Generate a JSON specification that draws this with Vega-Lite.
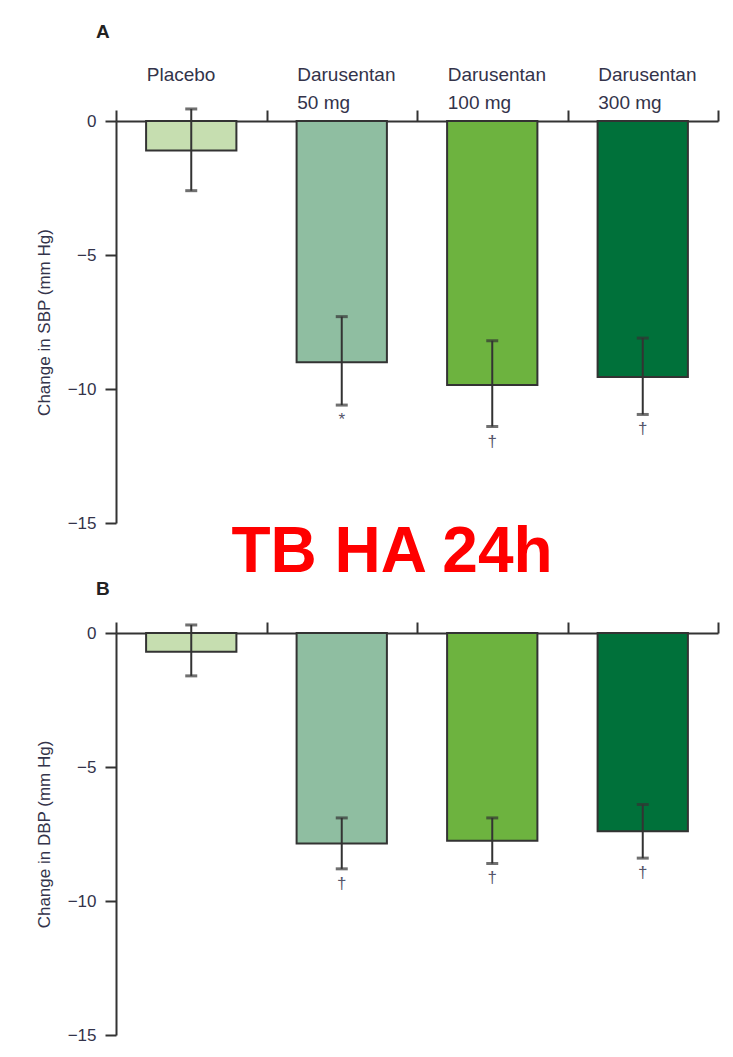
{
  "$schema": "https://vega.github.io/schema/vega-lite/v6.json",
  "background": "white",
  "padding": {"left": 35, "top": 23, "right": 5, "bottom": 5},
  "spacing": 0,
  "bounds": "flush",
  "config": {
    "font": "Liberation Sans",
    "view": {"stroke": null},
    "axis": {
      "grid": false,
      "labelFont": "Liberation Sans",
      "labelFontSize": 17,
      "labelColor": "#33334a",
      "titleFont": "Liberation Sans",
      "titleFontSize": 17,
      "titleFontWeight": "normal",
      "titleColor": "#33334a",
      "domainColor": "#333333",
      "domainWidth": 2,
      "tickColor": "#333333",
      "tickWidth": 2,
      "tickSize": 11
    }
  },
  "datasets": {
    "sbp": [
      {"group": "Placebo| ", "mean": -1.1, "lo": -2.6, "hi": 0.45, "sig": ""},
      {"group": "Darusentan|50 mg", "mean": -9.0, "lo": -10.6, "hi": -7.3, "sig": "*"},
      {"group": "Darusentan|100 mg", "mean": -9.85, "lo": -11.4, "hi": -8.2, "sig": "†"},
      {"group": "Darusentan|300 mg", "mean": -9.55, "lo": -10.95, "hi": -8.1, "sig": "†"}
    ],
    "dbp": [
      {"group": "Placebo| ", "mean": -0.7, "lo": -1.6, "hi": 0.3, "sig": ""},
      {"group": "Darusentan|50 mg", "mean": -7.85, "lo": -8.8, "hi": -6.9, "sig": "†"},
      {"group": "Darusentan|100 mg", "mean": -7.75, "lo": -8.6, "hi": -6.9, "sig": "†"},
      {"group": "Darusentan|300 mg", "mean": -7.4, "lo": -8.4, "hi": -6.4, "sig": "†"}
    ]
  },
  "vconcat": [
    {
      "width": 602,
      "height": 402,
      "data": {"name": "sbp"},
      "title": {"text": "A", "anchor": "start", "frame": "group", "dx": -20, "fontSize": 19, "fontWeight": "bold", "color": "#222222", "offset": 23},
      "encoding": {
        "x": {
          "field": "group", "type": "nominal", "sort": null,
          "scale": {"paddingInner": 0, "paddingOuter": 0},
          "axis": {
            "orient": "top", "title": null, "tickBand": "extent",
            "labelExpr": "split(datum.label, '|')",
            "labelAlign": "left", "labelOffset": -45, "labelAngle": 0,
            "labelFontSize": 19,
            "labelBaseline": "top", "labelLineHeight": 28, "labelPadding": 45
          }
        }
      },
      "layer": [
        {
          "mark": {"type": "bar", "width": {"band": 0.6}, "stroke": "#333333", "strokeWidth": 2},
          "encoding": {
            "y": {
              "field": "mean", "type": "quantitative", "title": "Change in SBP (mm Hg)",
              "scale": {"domain": [-15, 0], "nice": false},
              "axis": {"values": [0, -5, -10, -15], "labelPadding": 9, "titlePadding": 14}
            },
            "fill": {
              "field": "group", "type": "nominal", "legend": null,
              "scale": {"domain": ["Placebo| ", "Darusentan|50 mg", "Darusentan|100 mg", "Darusentan|300 mg"], "range": ["#c6deb0", "#8fbea1", "#6db33f", "#00713a"]}
            }
          }
        },
        {
          "mark": {"type": "errorbar", "color": "#333333", "thickness": 2, "ticks": {"size": 12, "thickness": 3}},
          "encoding": {
            "y": {"field": "lo", "type": "quantitative", "title": "Change in SBP (mm Hg)"},
            "y2": {"field": "hi"}
          }
        },
        {
          "mark": {"type": "text", "baseline": "top", "dy": 7, "fontSize": 17, "color": "#55556a"},
          "encoding": {
            "y": {"field": "lo", "type": "quantitative", "title": "Change in SBP (mm Hg)"},
            "text": {"field": "sig"}
          }
        }
      ]
    },
    {
      "width": 602,
      "height": 110,
      "data": {"values": [{"label": "TB HA 24h"}]},
      "mark": {"type": "text", "font": "Liberation Sans", "fontWeight": "bold", "fontSize": 64, "color": "#ff0000", "baseline": "alphabetic", "dx": -25, "dy": -6},
      "encoding": {"text": {"field": "label"}}
    },
    {
      "width": 602,
      "height": 402,
      "data": {"name": "dbp"},
      "title": {"text": "B", "anchor": "start", "frame": "group", "dx": -20, "fontSize": 19, "fontWeight": "bold", "color": "#222222", "offset": 22},
      "encoding": {
        "x": {
          "field": "group", "type": "nominal", "sort": null,
          "scale": {"paddingInner": 0, "paddingOuter": 0},
          "axis": {"orient": "top", "title": null, "tickBand": "extent", "labels": false}
        }
      },
      "layer": [
        {
          "mark": {"type": "bar", "width": {"band": 0.6}, "stroke": "#333333", "strokeWidth": 2},
          "encoding": {
            "y": {
              "field": "mean", "type": "quantitative", "title": "Change in DBP (mm Hg)",
              "scale": {"domain": [-15, 0], "nice": false},
              "axis": {"values": [0, -5, -10, -15], "labelPadding": 9, "titlePadding": 14}
            },
            "fill": {
              "field": "group", "type": "nominal", "legend": null,
              "scale": {"domain": ["Placebo| ", "Darusentan|50 mg", "Darusentan|100 mg", "Darusentan|300 mg"], "range": ["#c6deb0", "#8fbea1", "#6db33f", "#00713a"]}
            }
          }
        },
        {
          "mark": {"type": "errorbar", "color": "#333333", "thickness": 2, "ticks": {"size": 12, "thickness": 3}},
          "encoding": {
            "y": {"field": "lo", "type": "quantitative", "title": "Change in DBP (mm Hg)"},
            "y2": {"field": "hi"}
          }
        },
        {
          "mark": {"type": "text", "baseline": "top", "dy": 7, "fontSize": 17, "color": "#55556a"},
          "encoding": {
            "y": {"field": "lo", "type": "quantitative", "title": "Change in DBP (mm Hg)"},
            "text": {"field": "sig"}
          }
        }
      ]
    }
  ]
}
